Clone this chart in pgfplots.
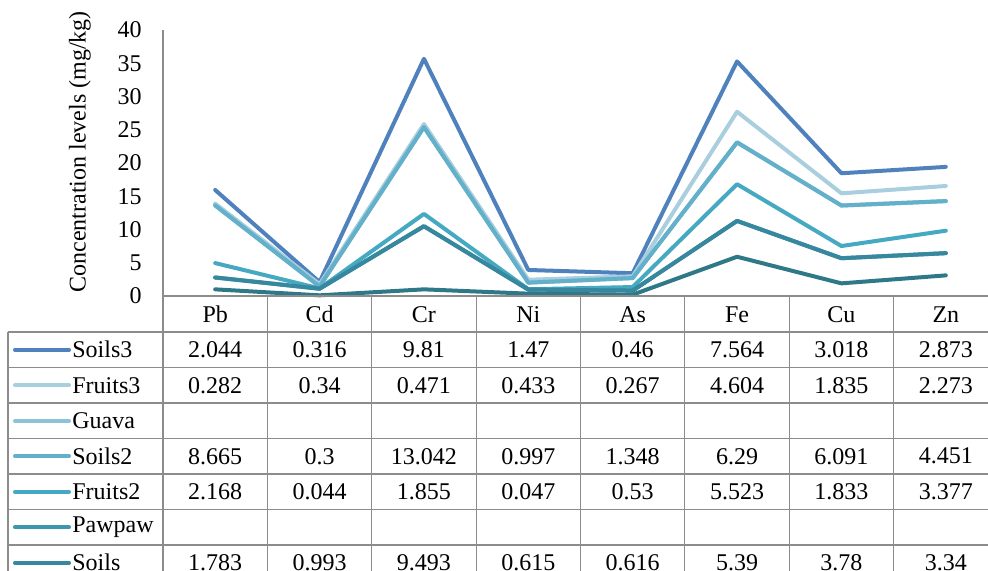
\documentclass[border=0pt]{standalone}
\usepackage{fontspec}
\setmainfont{Liberation Serif}
\usepackage{pgfplots}
\usepackage{pgfplotstable}
\pgfplotsset{compat=1.18}
\definecolor{cS3}{HTML}{4F81BD}
\definecolor{cF3}{HTML}{A9CEDD}
\definecolor{cG}{HTML}{8DC3D6}
\definecolor{cS2}{HTML}{63B0CA}
\definecolor{cF2}{HTML}{45A9C2}
\definecolor{cP}{HTML}{3E96AC}
\definecolor{cS}{HTML}{37889E}
\definecolor{cB}{HTML}{2E7888}
\definecolor{gridc}{HTML}{8C8C8C}
\pgfplotstableread{
cat B Soils Pawpaw Fruits2 Soils2 Guava Fruits3 Soils3
0 1.0 1.783 0 2.168 8.665 0 0.282 2.044
1 0.1 0.993 0 0.044 0.3 0 0.34 0.316
2 1.0 9.493 0 1.855 13.042 0 0.471 9.81
3 0.35 0.615 0 0.047 0.997 0 0.433 1.47
4 0.2 0.616 0 0.53 1.348 0 0.267 0.46
5 5.9 5.39 0 5.523 6.29 0 4.604 7.564
6 1.9 3.78 0 1.833 6.091 0 1.835 3.018
7 3.1 3.34 0 3.377 4.451 0 2.273 2.873
}\data
\begin{document}%
\fontsize{12}{14.4}\selectfont%
\begin{tikzpicture}
\useasboundingbox (0pt,0pt) rectangle (494pt,285.5pt);
\clip (0pt,0pt) rectangle (494pt,285.5pt);
\begin{axis}[at={(81.5pt,137.5pt)}, anchor=south west,
  width=417.5pt, height=133pt, scale only axis,
  xmin=-0.5, xmax=7.5, ymin=0, ymax=40,
  axis x line=none, axis y line*=left,
  y axis line style={draw=gridc, line width=0.7pt},
  ytick={0,5,...,40}, major tick length=0pt,
  yticklabel style={xshift=-6.5pt},
  /pgf/number format/assume math mode=true,
  clip=false, stack plots=y,
  every axis plot/.append style={line width=2pt, line join=round, line cap=round, no markers}]
\addplot[cB] table[x=cat,y=B]{\data};
\addplot[cS] table[x=cat,y=Soils]{\data};
\addplot[cP] table[x=cat,y=Pawpaw]{\data};
\addplot[cF2] table[x=cat,y=Fruits2]{\data};
\addplot[cS2] table[x=cat,y=Soils2]{\data};
\addplot[cG] table[x=cat,y=Guava]{\data};
\addplot[cF3] table[x=cat,y=Fruits3]{\data};
\addplot[cS3] table[x=cat,y=Soils3]{\data};
\end{axis}
\begin{scope}[x=0.5pt,y=0.5pt]
\node[rotate=90] at (80,419) {Concentration levels (mg/kg)};
% data table grid
\begin{scope}[gridc, line width=0.6pt]
\draw (163,275) -- (998,275);
\foreach \k in {0,...,8} {\draw (163+104.375*\k,275) -- (163+104.375*\k,-12);}
\draw (8,239) -- (8,-12);
\foreach \yy in {239,203.5,168,132.5,97,61.5,26} {\draw (8,\yy) -- (998,\yy);}
\end{scope}
% header
\foreach \n [count=\i from 0] in {Pb,Cd,Cr,Ni,As,Fe,Cu,Zn}
  {\node at (215.19+104.375*\i,256.5) {\n};}
% row labels
\foreach \lab/\c [count=\r from 0] in {Soils3/cS3,Fruits3/cF3,Guava/cG,Soils2/cS2,Fruits2/cF2,Pawpaw/cP,Soils/cS}
  {\draw[\c, line width=2pt, line cap=round] (15,221.25-35.5*\r) -- (69,221.25-35.5*\r);
   \node[anchor=west, inner sep=0pt] at (72,221.25-35.5*\r) {\lab};}
% cells
\foreach \v [count=\i from 0] in {2.044,0.316,9.81,1.47,0.46,7.564,3.018,2.873}
  {\node at (215.19+104.375*\i,221.25) {\v};}
\foreach \v [count=\i from 0] in {0.282,0.34,0.471,0.433,0.267,4.604,1.835,2.273}
  {\node at (215.19+104.375*\i,185.75) {\v};}
\foreach \v [count=\i from 0] in {8.665,0.3,13.042,0.997,1.348,6.29,6.091,4.451}
  {\node at (215.19+104.375*\i,114.75) {\v};}
\foreach \v [count=\i from 0] in {2.168,0.044,1.855,0.047,0.53,5.523,1.833,3.377}
  {\node at (215.19+104.375*\i,79.25) {\v};}
\foreach \v [count=\i from 0] in {1.783,0.993,9.493,0.615,0.616,5.39,3.78,3.34}
  {\node at (215.19+104.375*\i,8.25) {\v};}
\end{scope}
\end{tikzpicture}%
\end{document}
